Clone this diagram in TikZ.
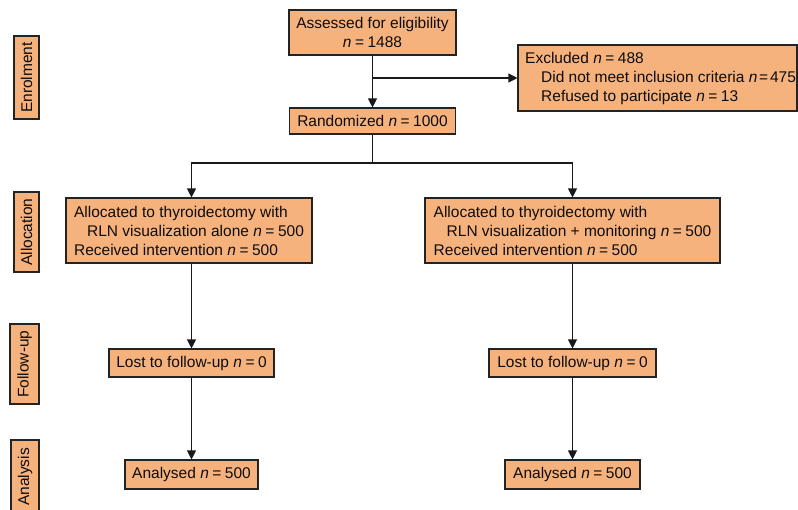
\documentclass[tikz,border=0pt]{standalone}
\usepackage{fontspec}
\setmainfont{Liberation Sans}
\usetikzlibrary{arrows.meta,calc}
\definecolor{boxfill}{RGB}{246,178,125}
\definecolor{boxline}{RGB}{35,35,35}
\newcommand\nval[1]{\textit{n}\kern3.5pt=\kern3.5pt#1}
\newcommand\nvaltight[1]{\textit{n}\kern1.8pt=\kern1.8pt#1}
\begin{document}
\begin{tikzpicture}[x=1pt,y=-1pt,
  every node/.style={font=\fontsize{15.5}{19}\selectfont, text=black!95},
  flowbox/.style={draw=boxline, fill=boxfill, line width=1.1pt, inner sep=0pt, align=center},
  leftbox/.style={flowbox, align=left},
  sidebox/.style={draw=boxline, fill=boxfill, line width=1.1pt, inner sep=0pt, rotate=90},
  arr/.style={draw=black!90, line width=1.1pt, -{Triangle[width=9pt,length=9pt]}},
  conn/.style={draw=black!90, line width=1.1pt}]
\useasboundingbox (0,0) rectangle (798,509);
\clip (0,0) rectangle (798,509);

% side labels
\node[sidebox, minimum width=83pt, minimum height=25pt] (enrol) at (26.5,77.5) {Enrolment};
\node[sidebox, minimum width=80pt, minimum height=25pt] (alloc) at (26.5,232) {Allocation};
\node[sidebox, minimum width=80pt, minimum height=29pt] (follow) at (24.5,364) {Follow-up};
\node[sidebox, minimum width=74pt, minimum height=28pt] (analysis) at (25,477) {Analysis};

% main boxes
\node[flowbox, minimum width=167pt, minimum height=45pt] (assess) at (372.5,32.5)
  {Assessed for eligibility\\ \nval{1488}};
\node[flowbox, minimum width=166pt, minimum height=26pt] (rand) at (372.5,121)
  {Randomized \nval{1000}};
\node[flowbox, minimum width=279pt, minimum height=66pt] (excl) at (657.5,78) {};
\node[anchor=west, inner sep=0pt, align=left] (excltext) at (525,78)
  {Excluded \nval{488}\\ \hspace*{16pt}Did not meet inclusion criteria \nvaltight{475}\\ \hspace*{16pt}Refused to participate \nval{13}};

\node[leftbox, minimum width=246pt, minimum height=65pt] (allocL) at (189,230.5)
  {Allocated to thyroidectomy with\\ \hspace*{13pt}RLN visualization alone \nval{500}\\ Received intervention \nval{500}};
\node[leftbox, minimum width=295pt, minimum height=65pt] (allocR) at (572.5,230.5)
  {Allocated to thyroidectomy with\\ \hspace*{13pt}RLN visualization + monitoring \nval{500}\\ Received intervention \nval{500}};

\node[flowbox, minimum width=165pt, minimum height=28pt] (lostL) at (191.5,363) {Lost to follow-up \nval{0}};
\node[flowbox, minimum width=167pt, minimum height=28pt] (lostR) at (572.5,363) {Lost to follow-up \nval{0}};

\node[flowbox, minimum width=133pt, minimum height=29pt] (anaL) at (191.5,474.5) {Analysed \nval{500}};
\node[flowbox, minimum width=135pt, minimum height=29pt] (anaR) at (572.5,474.5) {Analysed \nval{500}};

% connectors
\draw[arr] (assess.south) -- (rand.north);
\draw[arr] (assess.south |- excl.west) -- (excl.west);
\coordinate (split) at (372.5,163);
\draw[conn] (rand.south) -- (split);
\draw[arr] (split) -| (lostL.north |- allocL.north);
\draw[arr] (split) -| (lostR.north |- allocR.north);
\draw[arr] (lostL.north |- allocL.south) -- (lostL.north);
\draw[arr] (lostR.north |- allocR.south) -- (lostR.north);
\draw[arr] (lostL.south) -- (anaL.north);
\draw[arr] (lostR.south) -- (anaR.north);
\end{tikzpicture}
\end{document}
